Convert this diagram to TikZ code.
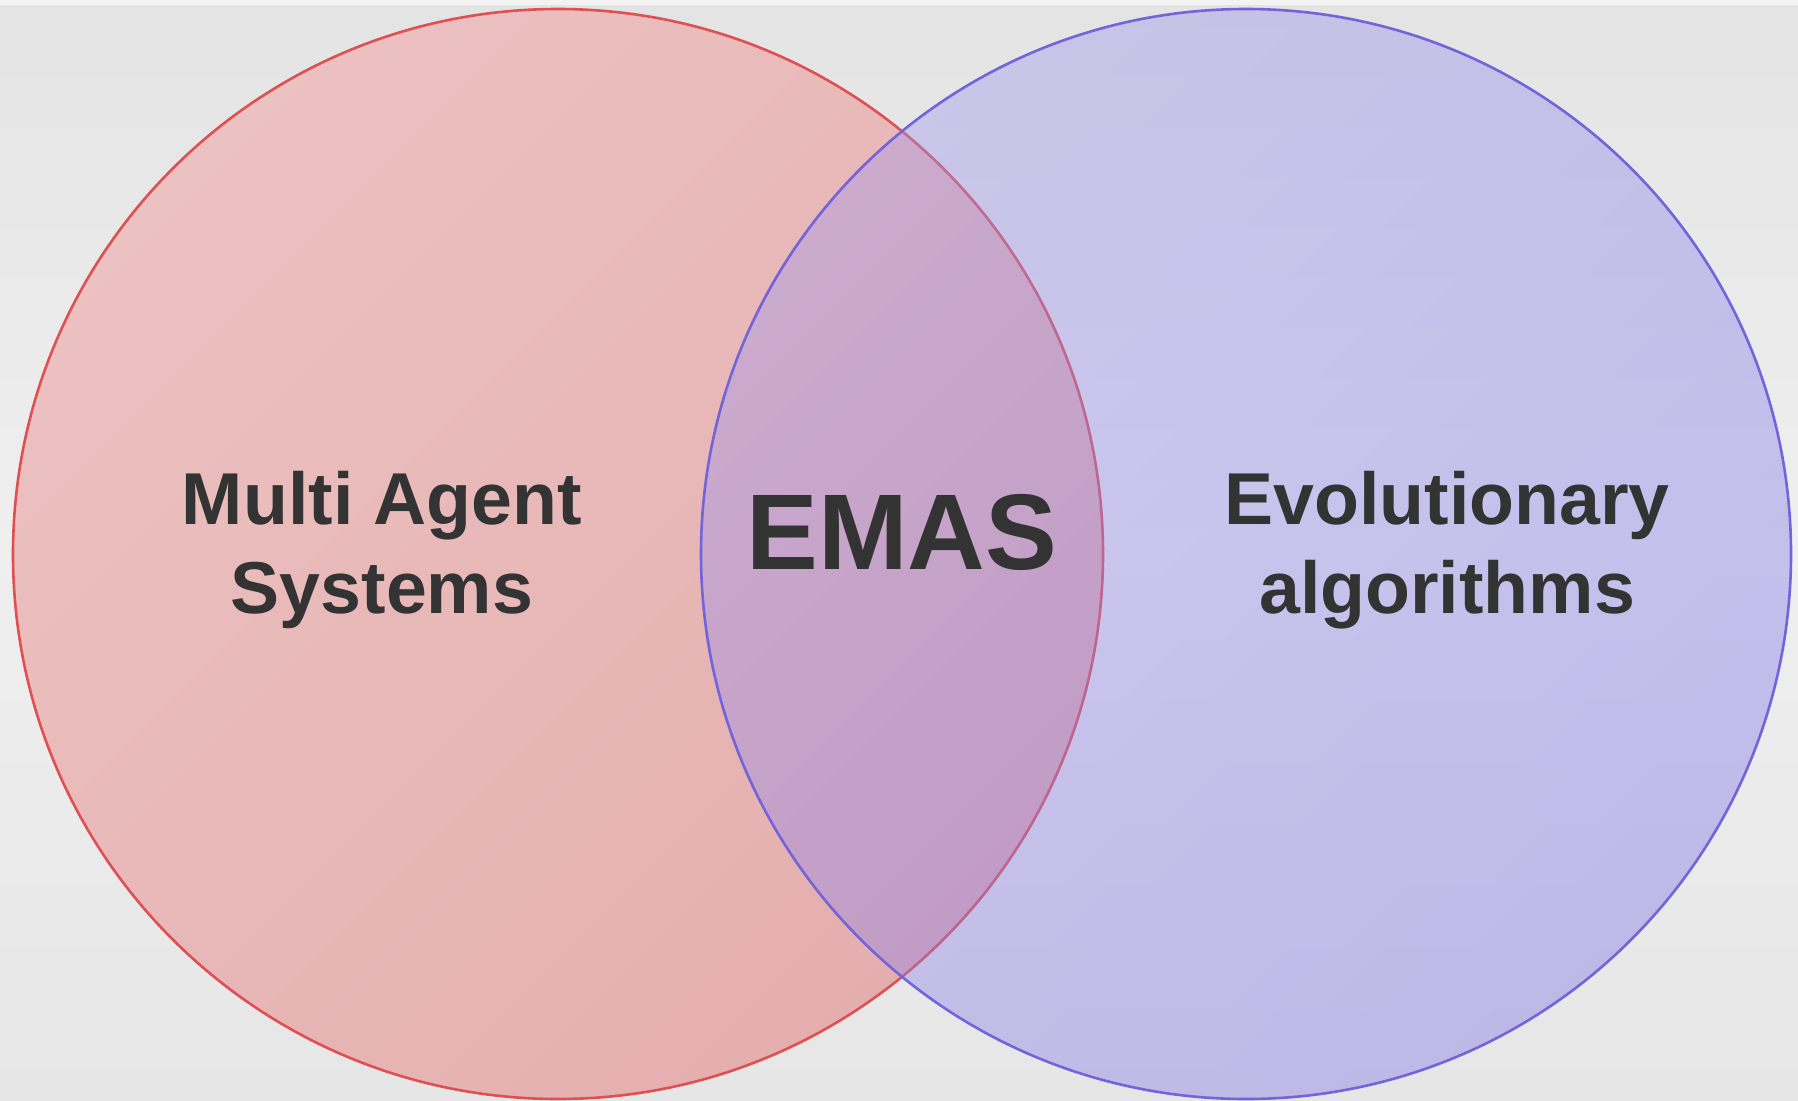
\documentclass[tikz,border=0pt]{standalone}
\usepackage{fontspec}
\setmainfont{Liberation Sans}
\definecolor{bgstrip}{RGB}{243,243,243}
\definecolor{redfillA}{RGB}{236,193,193}
\definecolor{redfillB}{RGB}{229,174,174}
\definecolor{redline}{RGB}{222,80,82}
\definecolor{bluefillA}{RGB}{158,150,238}
\definecolor{bluefillB}{RGB}{128,114,230}
\definecolor{blueline}{RGB}{114,100,218}
\definecolor{txt}{RGB}{51,51,51}
% soft grey backdrop, lightest across the middle
\pgfdeclareverticalshading{backdrop}{100bp}{
  rgb(0bp)=(0.902,0.902,0.902);
  rgb(25bp)=(0.902,0.902,0.902);
  rgb(50bp)=(0.937,0.937,0.937);
  rgb(75bp)=(0.894,0.894,0.894);
  rgb(100bp)=(0.894,0.894,0.894)}
\begin{document}
\begin{tikzpicture}[x=1pt,y=-1pt,
  settext/.style={font=\bfseries\fontsize{73.5}{89}\selectfont, text=txt,
    align=center, inner sep=0pt, anchor=base},
  bigtext/.style={font=\bfseries\fontsize{107.6}{120}\selectfont, text=txt,
    inner sep=0pt, anchor=base},
  setline/.style={line width=2.6pt}]
  % background
  \shade[shading=backdrop] (0,0) rectangle (1798,1100);
  \fill[bgstrip] (0,0) rectangle (1798,5);
  \useasboundingbox (0,0) rectangle (1798,1100);

  % left set
  \shade[top color=redfillA, bottom color=redfillB, shading angle=45]
    (558,554) circle[radius=545];
  \draw[setline, redline] (558,554) circle[radius=545];

  % right set, translucent so the overlap shows through
  \shade[top color=bluefillA, bottom color=bluefillB, shading angle=45,
    fill opacity=0.4] (1246,554) circle[radius=545];
  \draw[setline, blueline] (1246,554) circle[radius=545];

  % labels (base anchor sits on the last line)
  \node[settext] (mas) at (382,613) {Multi Agent\\Systems};
  \node[bigtext] (emas) at (902,569) {EMAS};
  \node[settext] (ea) at (1447,613) {Evolutionary\\algorithms};
\end{tikzpicture}
\end{document}
